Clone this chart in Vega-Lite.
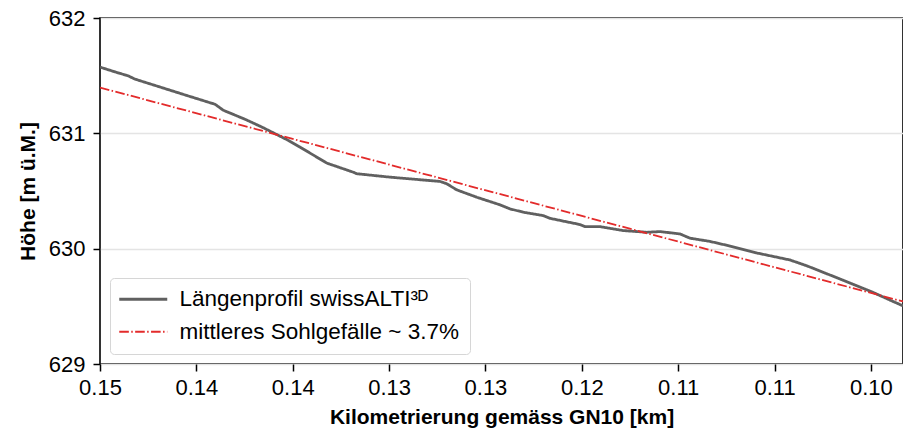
{
  "$schema": "https://vega.github.io/schema/vega-lite/v6.json",
  "width": 803,
  "height": 346,
  "autosize": {"type": "none"},
  "padding": {"left": 100, "top": 18, "right": 0, "bottom": 68},
  "background": "white",
  "config": {
    "font": "Liberation Sans",
    "view": {"stroke": "#000000", "strokeWidth": 1.6},
    "axis": {
      "domain": false,
      "tickColor": "#000000",
      "tickWidth": 1.5,
      "tickSize": 7,
      "labelFont": "Liberation Sans",
      "labelFontSize": 22,
      "labelColor": "#000000",
      "titleFont": "Liberation Sans",
      "titleFontSize": 21,
      "titleFontWeight": "bold",
      "titleColor": "#000000"
    },
    "legend": {
      "title": null,
      "orient": "none",
      "legendX": 10,
      "legendY": 260,
      "symbolType": "M-3,0H3",
      "symbolSize": 256,
      "symbolOffset": 12,
      "labelFont": "Liberation Sans",
      "labelFontSize": 22.5,
      "labelColor": "#000000",
      "labelOffset": 25,
      "rowPadding": 9.5,
      "padding": 10,
      "fillColor": "#ffffff",
      "strokeColor": "#d6d6d6",
      "cornerRadius": 4,
      "labelLimit": 500
    }
  },
  "data": {
    "values": [
      {"km": 0.15000, "h": 631.574, "series": "Längenprofil swissALTI³ᴰ"},
      {"km": 0.14907, "h": 631.533, "series": "Längenprofil swissALTI³ᴰ"},
      {"km": 0.14824, "h": 631.498, "series": "Längenprofil swissALTI³ᴰ"},
      {"km": 0.14782, "h": 631.470, "series": "Längenprofil swissALTI³ᴰ"},
      {"km": 0.14616, "h": 631.397, "series": "Längenprofil swissALTI³ᴰ"},
      {"km": 0.14450, "h": 631.324, "series": "Längenprofil swissALTI³ᴰ"},
      {"km": 0.14284, "h": 631.252, "series": "Längenprofil swissALTI³ᴰ"},
      {"km": 0.14232, "h": 631.200, "series": "Längenprofil swissALTI³ᴰ"},
      {"km": 0.14097, "h": 631.122, "series": "Längenprofil swissALTI³ᴰ"},
      {"km": 0.13993, "h": 631.055, "series": "Längenprofil swissALTI³ᴰ"},
      {"km": 0.13910, "h": 630.997, "series": "Längenprofil swissALTI³ᴰ"},
      {"km": 0.13828, "h": 630.939, "series": "Längenprofil swissALTI³ᴰ"},
      {"km": 0.13755, "h": 630.881, "series": "Längenprofil swissALTI³ᴰ"},
      {"km": 0.13588, "h": 630.742, "series": "Längenprofil swissALTI³ᴰ"},
      {"km": 0.13423, "h": 630.663, "series": "Längenprofil swissALTI³ᴰ"},
      {"km": 0.13402, "h": 630.650, "series": "Längenprofil swissALTI³ᴰ"},
      {"km": 0.13194, "h": 630.620, "series": "Längenprofil swissALTI³ᴰ"},
      {"km": 0.12883, "h": 630.583, "series": "Längenprofil swissALTI³ᴰ"},
      {"km": 0.12841, "h": 630.563, "series": "Längenprofil swissALTI³ᴰ"},
      {"km": 0.12779, "h": 630.510, "series": "Längenprofil swissALTI³ᴰ"},
      {"km": 0.12654, "h": 630.446, "series": "Längenprofil swissALTI³ᴰ"},
      {"km": 0.12509, "h": 630.380, "series": "Längenprofil swissALTI³ᴰ"},
      {"km": 0.12447, "h": 630.345, "series": "Längenprofil swissALTI³ᴰ"},
      {"km": 0.12364, "h": 630.316, "series": "Längenprofil swissALTI³ᴰ"},
      {"km": 0.12240, "h": 630.287, "series": "Längenprofil swissALTI³ᴰ"},
      {"km": 0.12198, "h": 630.263, "series": "Längenprofil swissALTI³ᴰ"},
      {"km": 0.12011, "h": 630.209, "series": "Längenprofil swissALTI³ᴰ"},
      {"km": 0.11980, "h": 630.191, "series": "Längenprofil swissALTI³ᴰ"},
      {"km": 0.11887, "h": 630.191, "series": "Längenprofil swissALTI³ᴰ"},
      {"km": 0.11742, "h": 630.157, "series": "Längenprofil swissALTI³ᴰ"},
      {"km": 0.11596, "h": 630.142, "series": "Längenprofil swissALTI³ᴰ"},
      {"km": 0.11513, "h": 630.148, "series": "Längenprofil swissALTI³ᴰ"},
      {"km": 0.11389, "h": 630.128, "series": "Längenprofil swissALTI³ᴰ"},
      {"km": 0.11327, "h": 630.091, "series": "Längenprofil swissALTI³ᴰ"},
      {"km": 0.11202, "h": 630.063, "series": "Längenprofil swissALTI³ᴰ"},
      {"km": 0.11078, "h": 630.023, "series": "Längenprofil swissALTI³ᴰ"},
      {"km": 0.10911, "h": 629.963, "series": "Längenprofil swissALTI³ᴰ"},
      {"km": 0.10704, "h": 629.902, "series": "Längenprofil swissALTI³ᴰ"},
      {"km": 0.10600, "h": 629.852, "series": "Längenprofil swissALTI³ᴰ"},
      {"km": 0.10392, "h": 629.737, "series": "Längenprofil swissALTI³ᴰ"},
      {"km": 0.10185, "h": 629.620, "series": "Längenprofil swissALTI³ᴰ"},
      {"km": 0.10081, "h": 629.554, "series": "Längenprofil swissALTI³ᴰ"},
      {"km": 0.10000, "h": 629.504, "series": "Längenprofil swissALTI³ᴰ"},
      {"km": 0.15000, "h": 631.397, "series": "mittleres Sohlgefälle ~ 3.7%"},
      {"km": 0.10000, "h": 629.542, "series": "mittleres Sohlgefälle ~ 3.7%"}
    ]
  },
  "mark": {"type": "line", "clip": true},
  "encoding": {
    "x": {
      "field": "km",
      "type": "quantitative",
      "scale": {"domain": [0.1, 0.15], "reverse": true, "nice": false, "zero": false},
      "axis": {
        "values": [0.15, 0.144, 0.138, 0.132, 0.126, 0.12, 0.114, 0.108, 0.102],
        "format": ".2f",
        "grid": false,
        "labelPadding": 6,
        "labelFlush": false,
        "title": "Kilometrierung gemäss GN10 [km]",
        "titlePadding": 8
      }
    },
    "y": {
      "field": "h",
      "type": "quantitative",
      "scale": {"domain": [629, 632], "nice": false, "zero": false},
      "axis": {
        "values": [629, 630, 631, 632],
        "format": "d",
        "grid": true,
        "gridColor": "#e4e4e4",
        "gridWidth": 1.5,
        "labelPadding": 8,
        "labelFlush": false,
        "title": "Höhe [m ü.M.]",
        "titlePadding": 10
      }
    },
    "color": {
      "field": "series",
      "type": "nominal",
      "scale": {
        "domain": ["Längenprofil swissALTI³ᴰ", "mittleres Sohlgefälle ~ 3.7%"],
        "range": ["#606060", "#e32b2b"]
      }
    },
    "strokeDash": {
      "field": "series",
      "type": "nominal",
      "scale": {
        "domain": ["Längenprofil swissALTI³ᴰ", "mittleres Sohlgefälle ~ 3.7%"],
        "range": [[1, 0], [9.6, 2.4, 1.5, 2.4]]
      }
    },
    "strokeWidth": {
      "field": "series",
      "type": "nominal",
      "scale": {
        "domain": ["Längenprofil swissALTI³ᴰ", "mittleres Sohlgefälle ~ 3.7%"],
        "range": [2.8, 1.8]
      }
    }
  }
}
